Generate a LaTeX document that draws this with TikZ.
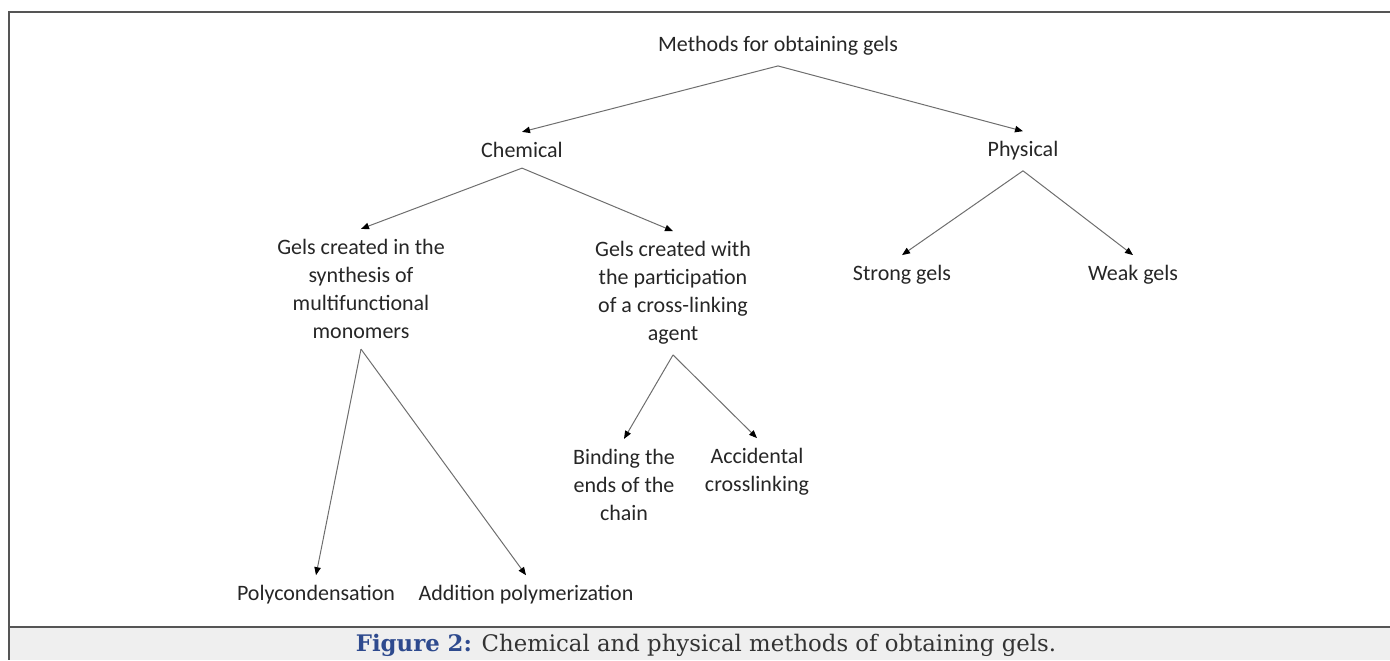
\documentclass[tikz,border=0pt]{standalone}
\usepackage{fontspec}
\setmainfont{Carlito}
\newfontfamily\capfont{DejaVu Serif}
\usetikzlibrary{arrows.meta}

\definecolor{linegray}{HTML}{6E6E6E}
\definecolor{framegray}{HTML}{555555}
\definecolor{capblue}{HTML}{2E4A8E}
\definecolor{captext}{HTML}{333333}
\definecolor{capbg}{HTML}{EFEFEF}

\tikzset{
    lbl/.style={font=\fontsize{11}{14}\selectfont, align=center, inner sep=5pt, text=black!85},
    arr/.style={-{Triangle[length=4pt,width=3.2pt,color=black]}, draw=linegray, line width=0.5pt}
}

\begin{document}
\begin{tikzpicture}[x=0.5pt, y=-0.5pt]
    \useasboundingbox (0,0) rectangle (1390,660);

    % frame and caption bar
    \fill[capbg] (9,627) rectangle (1395,660);
    \draw[framegray, line width=1pt] (1395,12) -- (9,12) -- (9,660);
    \draw[framegray, line width=1pt] (9,627) -- (1395,627);
    \node[font=\capfont\fontsize{11.4}{13}\selectfont, inner sep=0pt] (caption) at (706,645)
        {\textcolor{capblue}{\textbf{Figure 2:}} \textcolor{captext}{Chemical and physical methods of obtaining gels.}};

    \node[lbl] (root) at (778,46) {Methods for obtaining gels};
    \node[lbl] (chem) at (522,150) {Chemical};
    \node[lbl] (phys) at (1023,151) {Physical};

    \node[lbl] (synth) at (361,289) {Gels created in the\\synthesis of\\multifunctional\\monomers};
    \node[lbl] (agent) at (673,293) {Gels created with\\the participation\\of a cross-linking\\agent};
    \node[lbl] (strong) at (902,275) {Strong gels};
    \node[lbl] (weak) at (1133,275) {Weak gels};

    \node[lbl] (poly) at (316,595) {Polycondensation};
    \node[lbl] (addit) at (526,595) {Addition polymerization};
    \node[lbl] (bind) at (624,485) {Binding the\\ends of the\\chain};
    \node[lbl] (accid) at (757,472) {Accidental\\crosslinking};

    \draw[arr] (root.south) -- (chem.north);
    \draw[arr] (root.south) -- (phys.north);
    \draw[arr] (chem.south) -- (synth.north);
    \draw[arr] (chem.south) -- (agent.north);
    \draw[arr] (phys.south) -- (strong.north);
    \draw[arr] (phys.south) -- (weak.north);
    \draw[arr] (synth.south) -- (poly.north);
    \draw[arr] (synth.south) -- (addit.north);
    \draw[arr] (agent.south) -- (bind.north);
    \draw[arr] (agent.south) -- (accid.north);
\end{tikzpicture}
\end{document}
